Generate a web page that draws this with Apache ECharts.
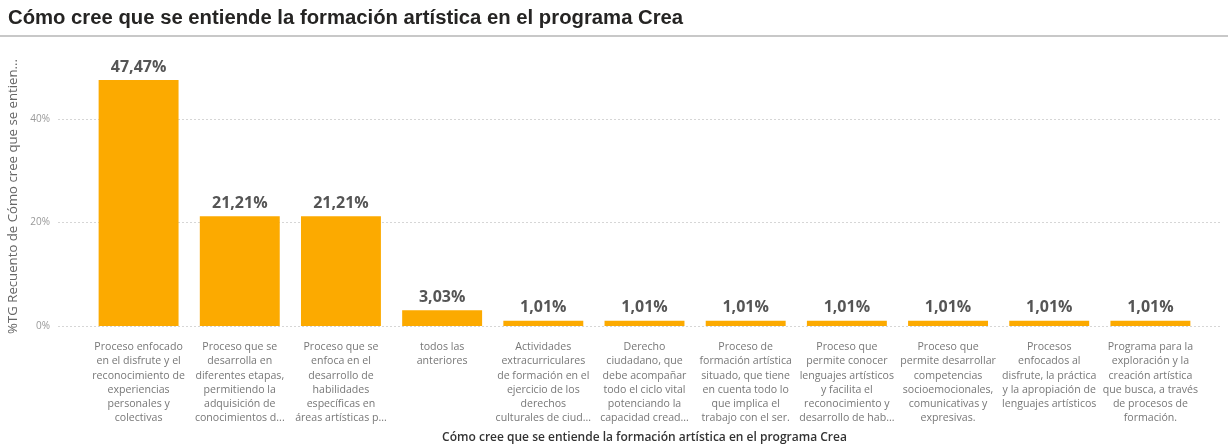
<!DOCTYPE html>
<html>
<head>
<meta charset="utf-8">
<script src="https://cdn.jsdelivr.net/npm/echarts@6/dist/echarts.min.js"></script>
<style>html,body{margin:0;padding:0;background:#fff;}#c{width:1228px;height:445px;}</style>
</head>
<body>
<div id="c"></div>
<script>
var titleText = 'Cómo cree que se entiende la formación artística en el programa Crea';
var xAxisName = 'Cómo cree que se entiende la formación artística en el programa Crea';
var yAxisName = '%TG Recuento de Cómo cree que se entien...';
var categories = [
  'Proceso enfocado\nen el disfrute y el\nreconocimiento de\nexperiencias\npersonales y\ncolectivas',
  'Proceso que se\ndesarrolla en\ndiferentes etapas,\npermitiendo la\nadquisición de\nconocimientos d...',
  'Proceso que se\nenfoca en el\ndesarrollo de\nhabilidades\nespecíficas en\náreas artísticas p...',
  'todos las\nanteriores',
  'Actividades\nextracurriculares\nde formación en el\nejercicio de los\nderechos\nculturales de ciud...',
  'Derecho\nciudadano, que\ndebe acompañar\ntodo el ciclo vital\npotenciando la\ncapacidad cread...',
  'Proceso de\nformación artística\nsituado, que tiene\nen cuenta todo lo\nque implica el\ntrabajo con el ser.',
  'Proceso que\npermite conocer\nlenguajes artísticos\ny facilita el\nreconocimiento y\ndesarrollo de hab...',
  'Proceso que\npermite desarrollar\ncompetencias\nsocioemocionales,\ncomunicativas y\nexpresivas.',
  'Procesos\nenfocados al\ndisfrute, la práctica\ny la apropiación de\nlenguajes artísticos',
  'Programa para la\nexploración y la\ncreación artística\nque busca, a través\nde procesos de\nformación.'
];
var values = [47.47, 21.21, 21.21, 3.03, 1.01, 1.01, 1.01, 1.01, 1.01, 1.01, 1.01];
var yTicks = [0, 20, 40];

var chart = echarts.init(document.getElementById('c'), null, {renderer: 'canvas'});
var font = '"Open Sans", "Noto Sans", sans-serif';
chart.setOption({
  animation: false,
  title: {
    text: titleText, left: 3, top: 3,
    textStyle: {fontFamily: '"Liberation Sans", Arial, sans-serif', fontSize: 20.3, fontWeight: 'bold', color: '#252423'}
  },
  graphic: [{
    type: 'rect', shape: {x: 0, y: 35, width: 1228, height: 2},
    style: {fill: '#c8c8c8'}, silent: true
  }],
  grid: [
    {left: 58, right: 6, top: 67, bottom: 119, outerBoundsMode: 'none', containLabel: false},
    {left: 88, right: 27, top: 67, bottom: 119, outerBoundsMode: 'none', containLabel: false}
  ],
  xAxis: [
    {gridIndex: 0, type: 'value', show: false, min: 0, max: 1},
    {
      gridIndex: 1, type: 'category', data: categories,
      axisLine: {show: false}, axisTick: {show: false},
      axisLabel: {interval: 0, margin: 14, fontFamily: font, fontSize: 10.6, color: '#777', lineHeight: 14.2, align: 'center'},
      name: xAxisName, nameLocation: 'middle', nameGap: 106,
      nameTextStyle: {fontFamily: font, fontSize: 12, fontWeight: 600, color: '#333'}
    }
  ],
  yAxis: [
    {
      gridIndex: 0, type: 'value', min: 0, max: 50, interval: 20,
      axisLine: {show: false}, axisTick: {show: false},
      axisLabel: {showMaxLabel: false, formatter: function (v) { return yTicks.indexOf(v) >= 0 ? v + '%' : ''; },
        fontFamily: font, fontSize: 10, color: '#999', margin: 8},
      splitLine: {showMaxLine: false, lineStyle: {type: [2, 2], color: '#d6d6d6', width: 1}},
      name: yAxisName, nameLocation: 'middle', nameGap: 31, nameRotate: 90,
      nameTextStyle: {fontFamily: font, fontSize: 13.2, color: '#666'}
    },
    {gridIndex: 1, type: 'value', min: 0, max: 50, show: false, splitLine: {show: false}}
  ],
  series: [{
    type: 'bar', xAxisIndex: 1, yAxisIndex: 1, data: values,
    barWidth: '79%',
    itemStyle: {color: '#FCAA00'},
    label: {
      show: true, position: 'top', distance: 5,
      formatter: function (p) { return p.value.toFixed(2).replace('.', ',') + '%'; },
      fontFamily: font, fontSize: 16, fontWeight: 'bold', color: '#555'
    }
  }]
});
</script>
</body>
</html>
